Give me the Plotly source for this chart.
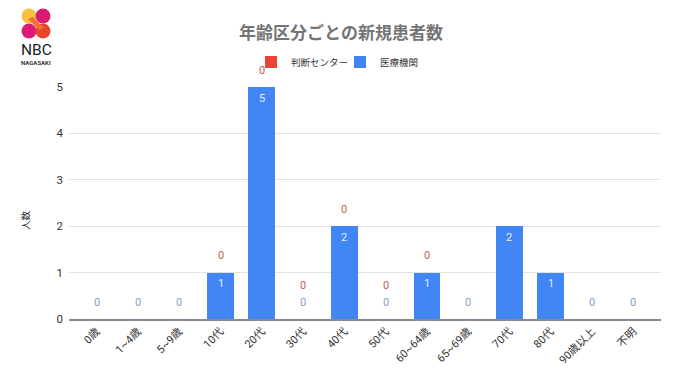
import plotly.graph_objects as go

categories = ["0歳", "1~4歳", "5~9歳", "10代", "20代", "30代", "40代", "50代",
              "60~64歳", "65~69歳", "70代", "80代", "90歳以上", "不明"]
center_values = [None, None, None, 0, 0, 0, 0, 0, 0, None, None, None, None, None]
clinic_values = [0, 0, 0, 1, 5, 0, 2, 0, 1, 0, 2, 1, 0, 0]
series_center = "判断センター"
series_clinic = "医療機関"
title_text = "年齢区分ごとの新規患者数"
y_title = "人数"

FONT = "Roboto, 'Noto Sans CJK JP', sans-serif"
RED = "#ea4335"
BLUE = "#4285f4"

fig = go.Figure()
fig.add_bar(x=categories, y=[v or 0 for v in center_values], name=series_center,
            marker=dict(color=RED, line_width=0))
fig.add_bar(x=categories, y=clinic_values, name=series_clinic,
            marker=dict(color=BLUE, line_width=0))

annotations = []
for i, cat in enumerate(categories):
    c = clinic_values[i]
    if c > 0:
        annotations.append(dict(x=cat, y=c, yref="y", xref="x", text=str(c), showarrow=False,
                                yshift=-11, font=dict(size=11, color="#e3edfd", family=FONT)))
    else:
        annotations.append(dict(x=cat, y=c, yref="y", xref="x", text=str(c), showarrow=False,
                                yshift=17, font=dict(size=11, color="#7f9fc8", family=FONT)))
    if center_values[i] is not None:
        annotations.append(dict(x=cat, y=c, yref="y", xref="x", text=str(center_values[i]),
                                showarrow=False, yshift=17 if c > 0 else 34,
                                font=dict(size=11, color="#c0604f", family=FONT)))
annotations.append(dict(xref="paper", yref="paper", x=(25 - 69) / 592, y=(319 - 220) / 232,
                        xanchor="center", yanchor="middle",
                        text=y_title, textangle=-90, showarrow=False,
                        font=dict(size=9.5, color="#222222", family=FONT)))


def pxx(v):
    return (v - 69) / 592


def pxy(v):
    return (319 - v) / 232


shapes = []
for cx, cy, r, col in [(29, 16, 7.5, "#f7c23f"), (29, 31, 7.5, "#dc1a78"),
                       (43, 16, 7.5, "#d81b72"), (43, 31, 7.5, "#e8452c")]:
    shapes.append(dict(type="circle", xref="paper", yref="paper", layer="above",
                       x0=pxx(cx - r), x1=pxx(cx + r), y0=pxy(cy + r), y1=pxy(cy - r),
                       fillcolor=col, line_width=0))
shapes.append(dict(type="path", xref="paper", yref="paper", layer="above", line_width=0,
                   fillcolor="#f0702f",
                   path=f"M {pxx(28)},{pxy(19)} L {pxx(33)},{pxy(17)} L {pxx(44)},{pxy(28)} L {pxx(39)},{pxy(30)} Z"))
annotations.append(dict(xref="paper", yref="paper", x=pxx(36), y=pxy(49.5), text="NBC", showarrow=False,
                        xanchor="center", yanchor="middle",
                        font=dict(size=15.5, color="#222222", family="Roboto")))
annotations.append(dict(xref="paper", yref="paper", x=pxx(36), y=pxy(62.5), text="<b>NAGASAKI</b>", showarrow=False,
                        xanchor="center", yanchor="middle",
                        font=dict(size=6, color="#333333", family="Roboto")))

fig.update_layout(
    width=680, height=382, barmode="stack", bargap=0.35,
    paper_bgcolor="white", plot_bgcolor="white",
    margin=dict(l=69, r=19, t=87, b=63, autoexpand=False),
    font=dict(family=FONT, color="#333333"),
    title=dict(text=f"<b>{title_text}</b>", x=341 / 680, xanchor="center", y=1 - 33 / 382, yanchor="middle",
               font=dict(size=17, color="#757575", family=FONT)),
    legend=dict(orientation="h", x=(251 - 69) / 592, xanchor="left", y=pxy(62), yanchor="middle",
                entrywidth=44, entrywidthmode="pixels",
                font=dict(size=9.5, color="#333333", family=FONT), traceorder="normal"),
    xaxis=dict(type="category", categoryorder="array", categoryarray=categories,
               range=[-0.67, 13.67], tickangle=-45, showgrid=False, ticks="",
               tickfont=dict(size=11, color="#333333", family=FONT),
               showline=True, linecolor="#8a8a8a", linewidth=1.5),
    yaxis=dict(range=[0, 5], tickvals=[0, 1, 2, 3, 4, 5], gridcolor="#e2e2e2", gridwidth=1,
               zeroline=False, ticks="", ticklabelstandoff=5,
               tickfont=dict(size=11.5, color="#333333", family=FONT)),
    annotations=annotations, shapes=shapes,
)
fig.write_html("out.html", post_script="document.body.style.margin='0';",
               config={"displayModeBar": False})
